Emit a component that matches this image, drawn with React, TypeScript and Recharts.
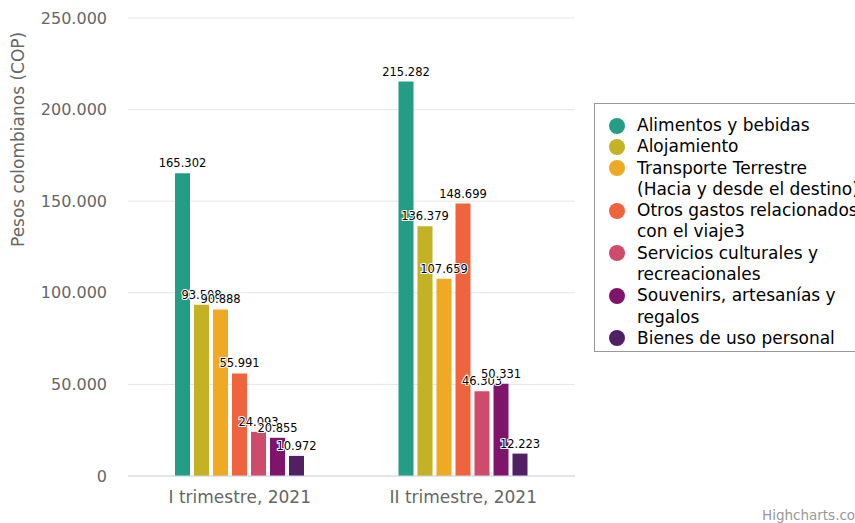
import { Bar, BarChart, CartesianGrid, LabelList, Legend, XAxis, YAxis } from "recharts";

const categories = ["I trimestre, 2021", "II trimestre, 2021"];

const seriesNames = [
    "Alimentos y bebidas",
    "Alojamiento",
    "Transporte Terrestre (Hacia y desde el destino)",
    "Otros gastos relacionados con el viaje3",
    "Servicios culturales y recreacionales",
    "Souvenirs, artesanías y regalos",
    "Bienes de uso personal",
];

const seriesColors = ["#259d84", "#c3b223", "#efaa24", "#ef643c", "#cf4b6c", "#7f146c", "#502063"];

const alimentos = [165302, 215282];
const alojamiento = [93508, 136379];
const transporte = [90888, 107659];
const otros = [55991, 148699];
const servicios = [24093, 46303];
const souvenirs = [20855, 50331];
const bienes = [10972, 12223];

const yTicks = [0, 50000, 100000, 150000, 200000, 250000];

const seriesValues = [alimentos, alojamiento, transporte, otros, servicios, souvenirs, bienes];

const data = categories.map((cat, i) => {
    const row: Record<string, string | number> = { name: cat };
    seriesNames.forEach((s, j) => {
        row["s" + j] = seriesValues[j][i];
    });
    return row;
});

const fmt = (n: number) => String(n).replace(/\B(?=(\d{3})+(?!\d))/g, ".");

const FONT = "'DejaVu Sans', Verdana, sans-serif";

function ValueLabel(props: any) {
    const { x, y, width, value } = props;
    return (
        <text
            x={x + width / 2}
            y={y - 6}
            textAnchor="middle"
            fontSize={11.5}
            fontFamily={FONT}
            fill="#000"
            stroke="#fff"
            strokeWidth={2}
            paintOrder="stroke"
        >
            {fmt(value)}
        </text>
    );
}

function renderLegend() {
    return (
        <div
            style={{
                border: "1px solid #999",
                background: "#fff",
                padding: "11px 0 2px 14px",
                width: 280,
                boxSizing: "border-box",
                fontFamily: FONT,
                fontSize: 17,
                lineHeight: "21.3px",
                color: "#000",
            }}
        >
            {seriesNames.map((s, i) => (
                <div key={s} style={{ display: "flex", alignItems: "flex-start" }}>
                    <span
                        style={{
                            width: 16,
                            height: 16,
                            borderRadius: 8,
                            background: seriesColors[i],
                            marginTop: 2.5,
                            marginRight: 12,
                            flex: "none",
                        }}
                    />
                    <span style={{ width: 228 }}>{s}</span>
                </div>
            ))}
        </div>
    );
}

export default function App() {
    return (
        <div style={{ position: "absolute", left: 0, top: 0, width: 855, height: 523, overflow: "hidden", background: "#fff" }}>
            <BarChart
                width={855}
                height={523}
                data={data}
                margin={{ top: 18, right: 280, bottom: 0, left: 0 }}
                barSize={15}
                barGap={4}
            >
                <CartesianGrid vertical={false} stroke="#e6e6e6" />
                <XAxis
                    dataKey="name"
                    height={47}
                    tickLine={false}
                    tickSize={0}
                    tickMargin={15}
                    axisLine={{ stroke: "#ccd6eb" }}
                    tick={{ fill: "#666", fontSize: 17, fontFamily: FONT }}
                />
                <YAxis
                    width={128}
                    domain={[0, 250000]}
                    ticks={yTicks}
                    tickFormatter={fmt}
                    axisLine={false}
                    tickLine={false}
                    tickSize={0}
                    tickMargin={21}
                    tick={{ fill: "#666", fontSize: 16, fontFamily: FONT }}
                    label={{
                        value: "Pesos colombianos (COP)",
                        angle: -90,
                        position: "insideLeft",
                        offset: 18,
                        fill: "#666",
                        fontSize: 17,
                        fontFamily: FONT,
                    }}
                />
                <Legend
                    layout="vertical"
                    align="center"
                    verticalAlign="middle"
                    content={renderLegend}
                    wrapperStyle={{ left: 594, top: 103, width: 280 }}
                />
                {seriesNames.map((s, i) => (
                    <Bar key={s} dataKey={"s" + i} name={s} fill={seriesColors[i]} isAnimationActive={false}>
                        <LabelList dataKey={"s" + i} content={ValueLabel} />
                    </Bar>
                ))}
            </BarChart>
            <div
                style={{
                    position: "absolute",
                    left: 762,
                    top: 507,
                    fontFamily: FONT,
                    fontSize: 13.5,
                    color: "#999",
                    whiteSpace: "nowrap",
                }}
            >
                Highcharts.com
            </div>
        </div>
    );
}
